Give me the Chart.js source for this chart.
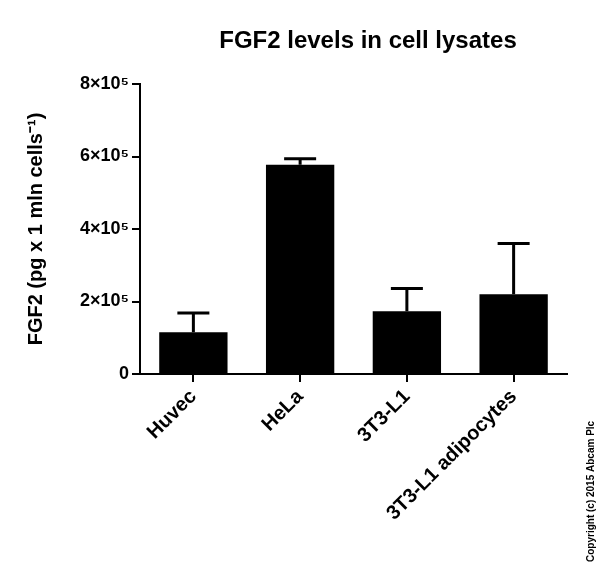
<!DOCTYPE html>
<html><head><meta charset="utf-8">
<script src="https://cdn.jsdelivr.net/npm/chart.js@4"></script>
<style>body{margin:0;background:#fff}#w{width:600px;height:567px;position:relative}</style>
</head><body><div id="w"><canvas id="c" width="600" height="567"></canvas></div>
<script>
const categories=["Huvec","HeLa","3T3-L1","3T3-L1 adipocytes"];
const means=[115000,577000,173000,220000];
const upper=[168000,594000,236000,360000];
const tickLabels={0:"0",200000:"2×10⁵",400000:"4×10⁵",600000:"6×10⁵",800000:"8×10⁵"};
const F='Arial, Liberation Sans';
const errPlugin={id:'err',afterDatasetsDraw(ch){
  const ctx=ch.ctx,x=ch.scales.x,y=ch.scales.y;ctx.save();ctx.strokeStyle='#000';ctx.lineWidth=3;
  means.forEach((m,i)=>{const cx=x.getPixelForValue(i),y0=y.getPixelForValue(m),y1=y.getPixelForValue(upper[i]);
    ctx.beginPath();ctx.moveTo(cx,y0);ctx.lineTo(cx,y1);ctx.moveTo(cx-16,y1);ctx.lineTo(cx+16,y1);ctx.stroke();});
  ctx.restore();
  ctx.save();ctx.fillStyle='#000';ctx.font='bold 24px '+F;ctx.textAlign='center';ctx.fillText('FGF2 levels in cell lysates',368,48);
  ctx.font='bold 10px '+F;ctx.textAlign='left';ctx.translate(594,562);ctx.rotate(-Math.PI/2);ctx.fillText('Copyright (c) 2015 Abcam Plc',0,0);ctx.restore();
}};
new Chart(document.getElementById('c'),{type:'bar',
 data:{labels:categories,datasets:[{data:means,backgroundColor:'#000',barPercentage:0.64,categoryPercentage:1}]},
 options:{responsive:false,animation:false,
  layout:{padding:{left:20,right:33,top:84,bottom:0}},
  plugins:{legend:{display:false},tooltip:{enabled:false},title:{display:false}},
  scales:{
   x:{afterFit:s=>{s.height=193;},grid:{display:true,drawOnChartArea:false,drawTicks:true,tickLength:8,color:'#000',lineWidth:2,offset:false},border:{color:'#000',width:2},
      ticks:{color:'#000',maxRotation:45,minRotation:45,font:{family:F,size:20,weight:'bold'}}},
   y:{afterFit:s=>{s.width=120;},min:0,max:800000,grid:{drawOnChartArea:false,tickLength:8,color:'#000',lineWidth:2},border:{color:'#000',width:2},
      ticks:{stepSize:200000,color:'#000',font:{family:F,size:18,weight:'bold'},callback:v=>tickLabels[v]},
      title:{display:true,text:'FGF2 (pg x 1 mln cells⁻¹)',color:'#000',font:{family:F,size:20,weight:'bold'}}}
  }},plugins:[errPlugin]});
</script></body></html>
